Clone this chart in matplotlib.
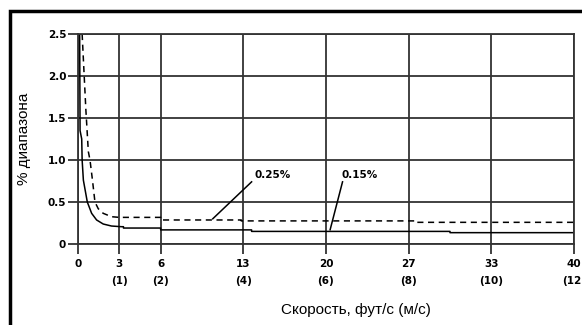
import matplotlib
matplotlib.use("Agg")
import matplotlib.pyplot as plt
from matplotlib.patches import Rectangle

# x axis is linear in m/s, labels show ft/s and (m/s)
tick_ms = [0, 1, 2, 4, 6, 8, 10, 12]
tick_fts = ['0', '3', '6', '13', '20', '27', '33', '40']
y_ticks = [0, 0.5, 1.0, 1.5, 2.0, 2.5]
y_labels = ['0', '0.5', '1.0', '1.5', '2.0', '2.5']

# 0.15% curve (solid)
solid_x = [0.04, 0.05, 0.09, 0.10, 0.13, 0.225, 0.33, 0.45, 0.61, 0.81, 1.05, 1.1, 1.1,
           2.0, 2.0, 4.2, 4.2, 9.0, 9.0, 12.0]
solid_y = [2.5, 1.35, 1.25, 1.0, 0.76, 0.50, 0.365, 0.286, 0.238, 0.214, 0.206, 0.206, 0.19,
           0.19, 0.168, 0.168, 0.15, 0.15, 0.135, 0.135]

# 0.25% curve (dashed)
dash_x = [0.10, 0.13, 0.19, 0.25, 0.29, 0.35, 0.41, 0.49, 0.61, 0.81, 1.0, 2.0, 2.0,
          3.95, 3.95, 8.2, 8.2, 12.0]
dash_y = [2.5, 2.2, 1.6, 1.1, 1.0, 0.76, 0.50, 0.42, 0.365, 0.325, 0.317, 0.317, 0.286,
          0.286, 0.275, 0.275, 0.258, 0.258]

labels = ['0.25%', '0.15%']
label_pos = [(4.28, 0.82), (6.38, 0.82)]
leader_x = [[4.2, 3.26], [6.4, 6.3, 6.1]]
leader_y = [[0.74, 0.30], [0.74, 0.55, 0.17]]

grid_col = '#333333'

fig = plt.figure(figsize=(5.82, 3.25), dpi=100)
ax = fig.add_axes([78/582, 81/325, 496/582, 210/325])

ax.plot(solid_x, solid_y, color='black', linewidth=1.1)
ax.plot(dash_x, dash_y, color='black', linewidth=1.1, linestyle=(0, (4, 3)))
for lx, ly in zip(leader_x, leader_y):
    ax.plot(lx, ly, color='black', linewidth=1.1)
for txt, (tx, ty) in zip(labels, label_pos):
    ax.text(tx, ty, txt, fontsize=7.5, fontweight='bold', va='center', ha='left')

ax.set_xlim(0, 12)
ax.set_ylim(0, 2.5)
ax.set_xticks(tick_ms)
ax.set_xticklabels([f if m == 0 else f"{f}\n({m})" for f, m in zip(tick_fts, tick_ms)],
                   fontsize=7.5, fontweight='bold', va='top', linespacing=1.9)
ax.set_yticks(y_ticks)
ax.set_yticklabels(y_labels, fontsize=7.5, fontweight='bold')
ax.tick_params(direction='out', length=7.5, width=1.3, color=grid_col, pad=3)
ax.tick_params(axis='y', pad=1)
ax.grid(True, color=grid_col, linewidth=1.3)
ax.set_axisbelow(True)
for s in ax.spines.values():
    s.set_color(grid_col)
    s.set_linewidth(1.3)

ax.set_ylabel('% диапазона', fontsize=11, family='Liberation Sans', labelpad=12)
fig.text(356/582, 15/325, 'Скорость, фут/с (м/с)', fontsize=11, family='Liberation Sans',
         ha='center', va='center')

fig.add_artist(Rectangle((10.5/582, -0.1), 1.2, 0.1 + (325 - 11.5)/325, transform=fig.transFigure,
                         fill=False, edgecolor='black', linewidth=2.5))

fig.savefig('out.png', dpi=100)
